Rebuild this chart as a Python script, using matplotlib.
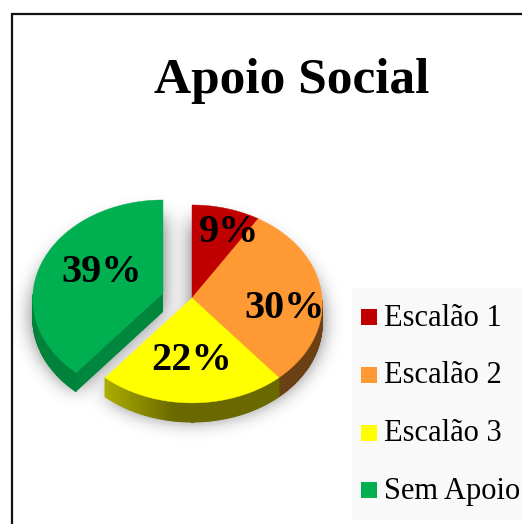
import numpy as np
import matplotlib
matplotlib.use('Agg')
import matplotlib.pyplot as plt
from matplotlib.patches import Polygon, Rectangle
from matplotlib.path import Path

plt.rcParams['font.family'] = ['Liberation Serif', 'DejaVu Serif']

# data
labels = ['Escalão 1', 'Escalão 2', 'Escalão 3', 'Sem Apoio']
values = [9, 30, 22, 39]
colors = ['#C00000', '#FF9933', '#FFFF00', '#00B050']
title = 'Apoio Social'

# pie geometry, in image pixels
cx, cy = 192, 298
rx = 130
a, k = 98.6, 0.06   # vertical radius and perspective
depth = 19
explode = [(0, 0), (0, 0), (0, 0), (-29, -5)]
label_xy = [(229, 232), (285, 308), (192, 360), (102, 272)]

fig = plt.figure(figsize=(5.22, 5.24), dpi=100)
ax = fig.add_axes([0, 0, 1, 1])
ax.set_xlim(0, 522)
ax.set_ylim(524, 0)
ax.axis('off')


def rim(t, dx=0, dy=0):
    # point(s) on the pie edge, t is clockwise from 12 o'clock in radians
    c = np.cos(t)
    return (cx + dx + rx * np.sin(t) / (1 + k * c),
            cy + dy - a * c / (1 + k * c))


def shade(col, f):
    rgb = np.array(matplotlib.colors.to_rgb(col))
    return tuple(rgb * f)


def blur(img, sigma):
    # gaussian blur along both axes
    r = int(3 * sigma)
    g = np.exp(-0.5 * (np.arange(-r, r + 1) / sigma) ** 2)
    g = g / g.sum()
    img = np.apply_along_axis(lambda m: np.convolve(m, g, mode='same'), 0, img)
    return np.apply_along_axis(lambda m: np.convolve(m, g, mode='same'), 1, img)


# angles from the values
edges = np.cumsum([0] + values) / sum(values) * 2 * np.pi

# frame
ax.plot([11.5, 11.5], [524, 13], color='#111111', lw=1.6, solid_capstyle='butt')
ax.plot([11.5, 522], [14, 14], color='#111111', lw=1.6, solid_capstyle='butt')

ax.text(292, 81, title, fontsize=37, fontweight='bold', ha='center', va='center')

# soft shadow under the parts
xx, yy = np.meshgrid(np.arange(522) + 0.5, np.arange(524) + 0.5)
pts = np.c_[xx.ravel(), yy.ravel()]
mask = np.zeros(xx.shape)
for i in range(len(values)):
    dx, dy = explode[i]
    t = np.linspace(edges[i], edges[i + 1], 80)
    x, y = rim(t, dx, dy + 16)
    p = Path(np.c_[np.r_[cx + dx, x], np.r_[cy + dy + 16, y]])
    mask[p.contains_points(pts).reshape(xx.shape)] = 1
mask = blur(mask, 10)
rgba = np.zeros(mask.shape + (4,))
rgba[..., 3] = mask * 0.6
ax.imshow(rgba, extent=[0, 522, 524, 0], zorder=1, interpolation='bilinear', aspect='auto')

# side walls, back to front (the back of the rim is hidden by the top faces)
for i in [3, 1, 2]:
    dx, dy = explode[i]
    col = colors[i]
    t = np.linspace(edges[i], edges[i + 1], 140)
    x, y = rim(t, dx, dy)
    for j in range(len(t) - 1):
        if np.cos(t[j]) > -0.02:
            continue
        if i == 2:
            u = min((x[j] - x.min()) / 70.0, 1)
            c = shade(col, 0.68 - 0.27 * u)
        elif i == 1:
            c = shade(col, 0.42)
        else:
            c = shade(col, 0.74)
        ax.add_patch(Polygon([(x[j], y[j]), (x[j + 1], y[j + 1]),
                              (x[j + 1], y[j + 1] + depth), (x[j], y[j] + depth)],
                             fc=c, ec=c, lw=0.8, zorder=2 + i))

# cut face of the green part
dx, dy = explode[3]
x0, y0 = cx + dx, cy + dy
x1, y1 = rim(edges[3], dx, dy)
ax.add_patch(Polygon([(x0, y0), (x1, y1), (x1, y1 + depth), (x0, y0 + depth)],
                     fc=shade(colors[3], 0.76), ec='none', zorder=6))

# top faces
for i in range(len(values)):
    dx, dy = explode[i]
    t = np.linspace(edges[i], edges[i + 1], 120)
    x, y = rim(t, dx, dy)
    ax.add_patch(Polygon(np.c_[np.r_[cx + dx, x], np.r_[cy + dy, y]],
                         fc=colors[i], ec=colors[i], lw=0.3, zorder=7))

for v, (lx, ly) in zip(values, label_xy):
    ax.text(lx, ly, '%d%%' % v, fontsize=29, fontweight='bold', ha='center',
            va='center', zorder=9)

# legend
ax.add_patch(Rectangle((352, 288), 170, 232, fc='#F9F9F9', ec='none', zorder=2))
for n, (lab, col) in enumerate(zip(labels, colors)):
    ly = 317 + n * 57.8
    ax.add_patch(Rectangle((361, ly - 8), 16, 16, fc=col, ec='none', zorder=3))
    ax.text(384, ly + 1, lab, fontsize=22, ha='left', va='center', zorder=3, clip_on=True)

ax.set_xlim(0, 522)
ax.set_ylim(524, 0)
fig.savefig('out.png', dpi=100)
